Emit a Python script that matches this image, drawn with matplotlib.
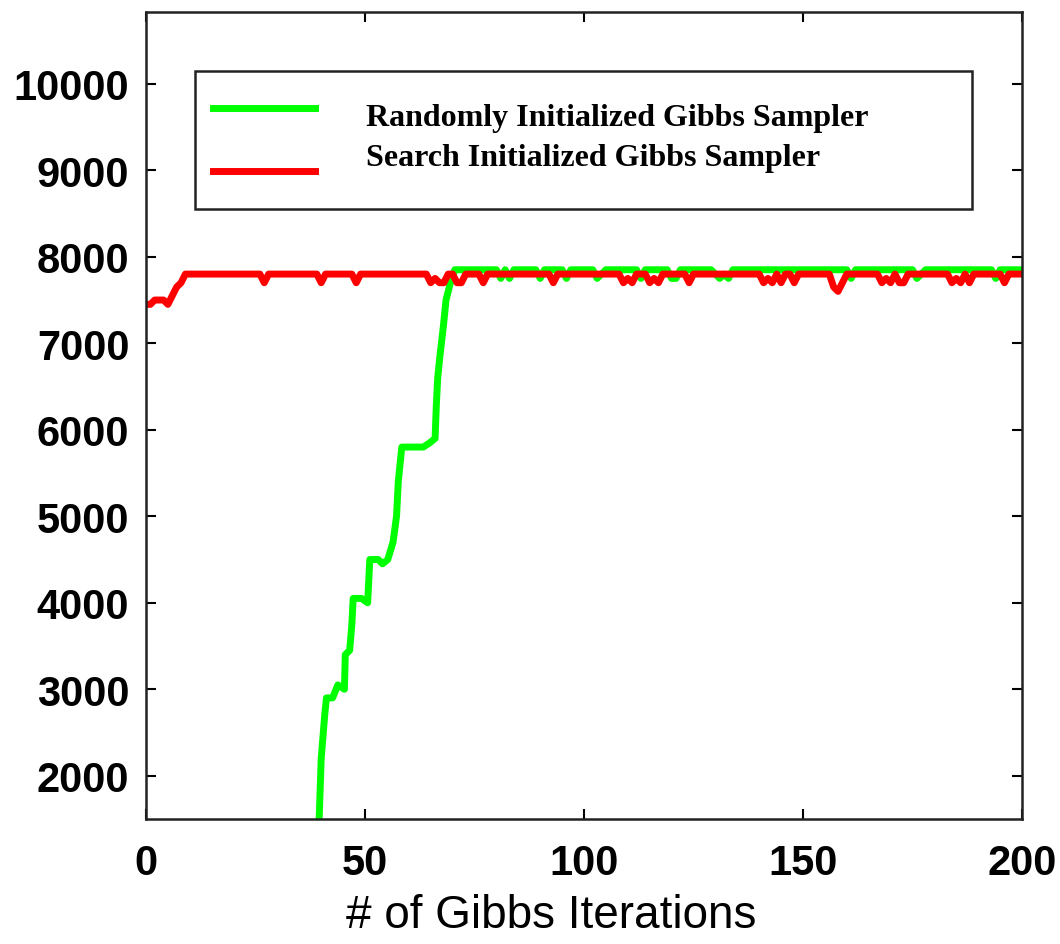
import matplotlib
matplotlib.use('Agg')
import matplotlib.pyplot as plt
from matplotlib.lines import Line2D
from matplotlib.patches import Rectangle

# Gibbs sampler runs: iteration number vs. score
random_x = [39.4, 40.0, 40.8, 41.2, 42.6, 43.8, 45.3, 45.5, 46.5, 47.0, 47.3, 49.2,
            50.6, 51.1, 53.0, 54.0, 55.2, 56.4, 57.2, 57.6, 58.4, 63.3, 64.8, 66.0,
            66.3, 66.6, 67.1, 67.9, 68.5, 69.5, 70.5, 80, 81, 82, 83, 84, 89, 90, 91,
            95, 96, 97, 102, 103, 104, 105, 112, 113, 114, 119, 120, 121, 122, 129,
            130, 131, 132, 133, 134, 160, 161, 162, 175, 176, 177, 178, 193, 194, 195, 200]
random_y = [1300, 2200, 2700, 2900, 2900, 3050, 3000, 3400, 3450, 3750, 4050, 4050,
            4000, 4500, 4500, 4450, 4500, 4700, 5000, 5400, 5800, 5800, 5850, 5900,
            6300, 6600, 6850, 7200, 7500, 7700, 7850, 7850, 7750, 7850, 7750, 7850, 7850, 7750, 7850,
            7850, 7750, 7850, 7850, 7750, 7800, 7850, 7850, 7750, 7850, 7850, 7750, 7750, 7850, 7850,
            7800, 7750, 7800, 7750, 7850, 7850, 7750, 7850, 7850, 7750, 7800, 7850, 7850, 7750, 7850, 7850]

search_x = [0, 1, 2, 4, 5, 6, 7, 8, 9,
            26, 27, 28, 39, 40, 41, 47, 48, 49,
            64, 65, 66, 67, 68, 69, 70, 71, 72, 73, 76, 77, 78, 92, 93, 94,
            108, 109, 110, 111, 112, 114, 115, 116, 117, 118, 123, 124, 125,
            140, 141, 142, 143, 144, 145, 146, 147, 148, 149,
            156, 157, 158, 159, 160, 167, 168, 169, 170, 171, 172, 173, 174,
            183, 184, 185, 186, 187, 188, 189, 195, 196, 197, 200]
search_y = [7450, 7450, 7500, 7500, 7450, 7550, 7650, 7700, 7800,
            7800, 7700, 7800, 7800, 7700, 7800, 7800, 7700, 7800,
            7800, 7700, 7750, 7700, 7700, 7800, 7800, 7700, 7700, 7800, 7800, 7700, 7800, 7800, 7700, 7800,
            7800, 7700, 7750, 7700, 7800, 7800, 7700, 7750, 7700, 7800, 7800, 7700, 7800,
            7800, 7700, 7750, 7700, 7800, 7700, 7800, 7800, 7700, 7800,
            7800, 7650, 7600, 7700, 7800, 7800, 7700, 7750, 7700, 7800, 7700, 7700, 7800,
            7800, 7700, 7750, 7700, 7800, 7700, 7800, 7800, 7700, 7800, 7800]

names = ['Randomly Initialized Gibbs Sampler', 'Search Initialized Gibbs Sampler']
colors = ['#00ff00', '#ff0000']

xticks = [0, 50, 100, 150, 200]
yticks = [2000, 3000, 4000, 5000, 6000, 7000, 8000, 9000, 10000]

fig = plt.figure(figsize=(10.6, 9.45), dpi=100)
ax = fig.add_axes([146 / 1060, 1 - 820 / 945, 876 / 1060, 807 / 945])

ax.plot(random_x, random_y, color=colors[0], lw=5, solid_joinstyle='round')
ax.plot(search_x, search_y, color=colors[1], lw=5, solid_joinstyle='round')

ax.set_xlim(0, 200)
ax.set_ylim(1500, 10830)
ax.set_xticks(xticks)
ax.set_yticks(yticks)
ax.set_xticklabels([str(t) for t in xticks], fontsize=30, fontweight='bold',
                   family='Liberation Sans')
ax.set_yticklabels([str(t) for t in yticks], fontsize=30, fontweight='bold',
                   family='Liberation Sans')
ax.tick_params(direction='in', length=7, width=1.5, top=True, right=True)
ax.tick_params(axis='x', pad=17)
ax.tick_params(axis='y', pad=12)
for s in ax.spines.values():
    s.set_linewidth(1.8)
    s.set_color('#222222')

ax.set_xlabel('# of Gibbs Iterations', fontsize=33, family='Liberation Sans', labelpad=9)
ax.xaxis.set_label_coords(0.462, -0.092, transform=ax.transAxes)
ax.xaxis.label.set_va('top')

# legend box drawn by hand
fig.add_artist(Rectangle((195 / 1060, 1 - 210 / 945), 777 / 1060, 138 / 945,
                         transform=fig.transFigure, facecolor='white',
                         edgecolor='#222222', lw=1.8))
line_y = [1 - 109 / 945, 1 - 172 / 945]
text_y = [1 - 126 / 945, 1 - 166 / 945]
for name, c, ly, ty in zip(names, colors, line_y, text_y):
    fig.add_artist(Line2D([213 / 1060, 315 / 1060], [ly, ly], color=c, lw=5,
                          transform=fig.transFigure))
    fig.text(366 / 1060, ty, name, fontsize=23, fontweight='bold',
             family='Liberation Serif', va='baseline', ha='left')

fig.savefig('out.png', dpi=100)
